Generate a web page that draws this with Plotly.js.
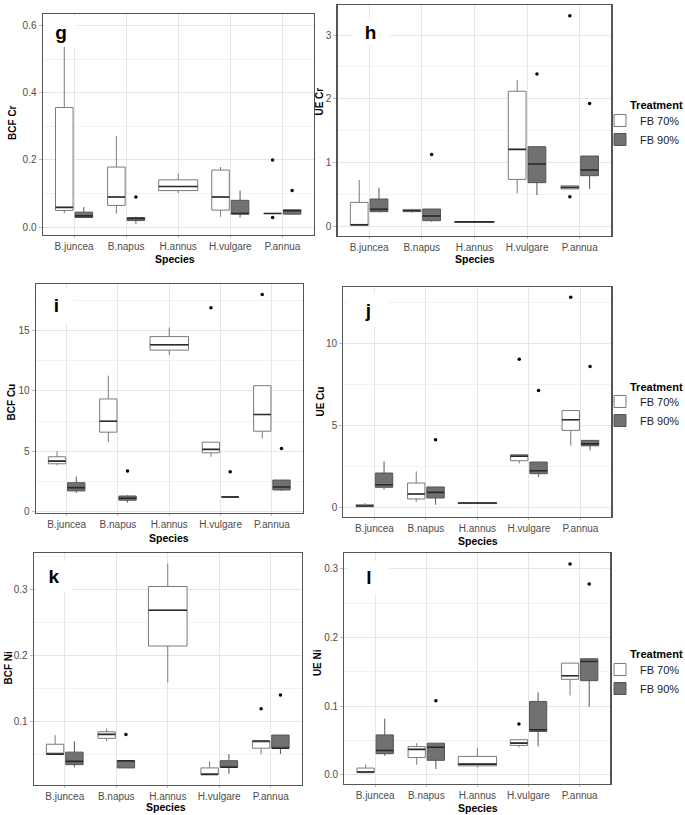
<!DOCTYPE html>
<html>
<head>
<meta charset="utf-8">
<script src="https://cdn.plot.ly/plotly-3.0.1.min.js"></script>
<style>html,body{margin:0;padding:0;background:#fff;}#chart{width:685px;height:815px;}</style>
</head>
<body>
<div id="chart"></div>
<script>
// ---------- DATA (five-number summaries: [lower whisker, Q1, median, Q3, upper whisker]) ----------
const SPECIES = ['B.juncea', 'B.napus', 'H.annus', 'H.vulgare', 'P.annua'];
const TREATMENTS = ['FB 70%', 'FB 90%'];

// g: BCF Cr
const g70 = [[0.042,0.050,0.059,0.356,0.600],[0.041,0.065,0.090,0.179,0.271],[0.102,0.109,0.121,0.141,0.160],[0.031,0.051,0.090,0.170,0.179],[0.041,0.041,0.041,0.041,0.041]];
const g90 = [[0.028,0.029,0.034,0.045,0.060],[0.010,0.020,0.026,0.029,0.031],null,[0.029,0.039,0.041,0.080,0.109],[0.039,0.039,0.049,0.052,0.052]];
const gOut70 = [[],[],[],[],[0.200,0.029]];
const gOut90 = [[],[0.090],[],[],[0.109]];

// h: UE Cr
const h70 = [[0.02,0.02,0.03,0.38,0.73],[0.22,0.235,0.25,0.27,0.28],[0.07,0.07,0.075,0.08,0.08],[0.52,0.74,1.21,2.12,2.30],[0.59,0.59,0.615,0.64,0.64]];
const h90 = [[0.224,0.235,0.271,0.433,0.61],[0.078,0.094,0.167,0.276,0.276],null,[0.496,0.689,0.981,1.252,1.252],[0.59,0.798,0.887,1.106,1.106]];
const hOut70 = [[],[],[],[],[3.30,0.47]];
const hOut90 = [[],[1.13],[],[2.39],[1.93]];

// i: BCF Cu
const i70 = [[3.83,3.96,4.18,4.54,5.01],[5.75,6.58,7.49,9.33,11.26],[12.99,13.38,13.82,14.5,15.25],[4.54,4.87,5.15,5.75,5.75],[6.06,6.66,8.04,10.43,10.43]];
const i90 = [[1.54,1.71,1.98,2.39,2.89],[0.74,0.94,1.10,1.29,1.35],null,[1.21,1.21,1.21,1.21,1.21],[1.71,1.79,2.04,2.61,2.61]];
const iOut70 = [[],[],[],[16.9],[18.0]];
const iOut90 = [[],[3.36],[],[3.30],[5.23]];

// j: UE Cu
const j70 = [[0.06,0.08,0.12,0.20,0.30],[0.37,0.55,0.85,1.52,2.23],[0.27,0.27,0.30,0.32,0.39],[2.72,2.88,3.16,3.25,3.25],[3.81,4.73,5.38,5.94,5.94]];
const j90 = [[1.12,1.26,1.42,2.13,2.84],[0.20,0.61,0.95,1.28,1.28],null,[1.89,2.09,2.27,2.80,2.80],[3.51,3.79,3.91,4.12,4.12]];
const jOut70 = [[],[],[],[9.07],[12.84]];
const jOut90 = [[],[4.16],[],[7.16],[8.62]];

// k: BCF Ni
const k70 = [[0.050,0.050,0.050,0.065,0.079],[0.070,0.074,0.080,0.084,0.089],[0.159,0.2145,0.269,0.305,0.340],[0.019,0.019,0.019,0.029,0.039],[0.050,0.059,0.070,0.070,0.070]];
const k90 = [[0.030,0.034,0.039,0.053,0.0695],[0.029,0.029,0.040,0.040,0.040],null,[0.020,0.030,0.030,0.040,0.050],[0.050,0.059,0.059,0.079,0.079]];
const kOut70 = [[],[],[],[],[0.119]];
const kOut90 = [[],[0.080],[],[],[0.140]];

// l: UE Ni
const l70 = [[0.003,0.003,0.004,0.0097,0.0146],[0.0146,0.025,0.037,0.041,0.046],[0.0107,0.013,0.0155,0.0267,0.0388],[0.0398,0.0427,0.046,0.051,0.051],[0.1155,0.139,0.1442,0.1626,0.1626]];
const l90 = [[0.0277,0.0306,0.0354,0.058,0.0816],[0.0083,0.021,0.040,0.046,0.046],null,[0.0413,0.063,0.0655,0.1068,0.120],[0.0995,0.137,0.165,0.169,0.169]];
const lOut70 = [[],[],[],[0.0738],[0.307]];
const lOut90 = [[],[0.1078],[],[],[0.278]];

// ---------- LAYOUT / STYLE ----------
const W = 685, H = 815;
const fx = px => px / W;
const fy = py => 1 - py / H;
const FONT = 'Liberation Sans, Arial, sans-serif';
const FILL = ['#ffffff', '#717171'];
const LINE = ['#7a7a7a', '#555555'];
const DODGE = 0.1875, BOXW = 0.3375, FULLW = 0.75;

const PANELS = [
  {letter:'g', d:[g70,g90], o:[gOut70,gOut90], ytitle:'BCF Cr', rect:[43,14,315,235], yr:[-0.023,0.634], dtick:0.2, fmt:'.1f',
   yt:[12,122], xt:[176,259.5], lt:[61.5,31.5,30,28], legend:null},
  {letter:'h', d:[h70,h90], o:[hOut70,hOut90], ytitle:'UE Cr', rect:[339,5,614,236], yr:[-0.146,3.47], dtick:1, fmt:'d',
   yt:[321,102], xt:[477,259.5], lt:[372.5,32,35,26], legend:{id:'legend', title:105, item1:120}},
  {letter:'i', d:[i70,i90], o:[iOut70,iOut90], ytitle:'BCF Cu', rect:[36,284,304,513], yr:[-0.12,18.86], dtick:5, fmt:'d',
   yt:[11.5,402], xt:[170,538], lt:[56.5,305,33,33], legend:null},
  {letter:'j', d:[j70,j90], o:[jOut70,jOut90], ytitle:'UE Cu', rect:[345,287,614,517], yr:[-0.55,13.47], dtick:5, fmt:'d',
   yt:[321,402], xt:[480,541], lt:[370,310,36,32], legend:{id:'legend2', title:387, item1:401}},
  {letter:'k', d:[k70,k90], o:[kOut70,kOut90], ytitle:'BCF Ni', rect:[34,553,303,785], yr:[0.003,0.356], dtick:0.1, fmt:'.1f',
   yt:[8.5,667], xt:[167,806.5], lt:[54,576.5,34,29], legend:null},
  {letter:'l', d:[l70,l90], o:[lOut70,lOut90], ytitle:'UE Ni', rect:[346,553,613,784], yr:[-0.0135,0.323], dtick:0.1, fmt:'.1f',
   yt:[318.5,663], xt:[480,807.5], lt:[371,577.5,38,31], legend:{id:'legend3', title:654, item1:669}}
];

const traces = [];
const layout = {
  width: W, height: H, margin:{l:0,r:0,t:0,b:0}, paper_bgcolor:'#fff', plot_bgcolor:'#fff',
  boxmode:'overlay', hovermode:false, font:{family:FONT, size:10, color:'#4d4d4d'},
  annotations: [], showlegend: true
};

PANELS.forEach((P, idx) => {
  const n = idx + 1;
  const sfx = n === 1 ? '' : String(n);
  const xa = 'x' + sfx, ya = 'y' + sfx;
  const [L, T, R, B] = P.rect;

  layout['xaxis' + sfx] = {
    domain:[fx(L), fx(R)], anchor:ya, range:[0.4,5.6],
    tickmode:'array', tickvals:SPECIES.map((s,i)=>i+1), ticktext:SPECIES,
    showgrid:true, gridcolor:'#e6e6e6', gridwidth:1, zeroline:false,
    showline:true, mirror:true, linecolor:'#555', linewidth:1.3,
    ticks:'outside', ticklen:2, tickcolor:'#bdbdbd', tickfont:{size:10, color:'#4d4d4d', family:FONT},
    fixedrange:true
  };
  layout['yaxis' + sfx] = {
    domain:[fy(B), fy(T)], anchor:xa, range:P.yr, tick0:0, dtick:P.dtick, tickformat:P.fmt,
    showgrid:true, gridcolor:'#e6e6e6', gridwidth:1, zeroline:false,
    minor:{tick0:0, dtick:P.dtick/2, showgrid:true, gridcolor:'#f2f2f2', gridwidth:1, ticks:''},
    showline:true, mirror:true, linecolor:'#555', linewidth:1.3,
    ticks:'outside', ticklen:3, tickcolor:'#bdbdbd', tickfont:{size:10, color:'#4d4d4d', family:FONT},
    fixedrange:true
  };

  const medX = [], medY = [];
  [0,1].forEach(t => {
    const dod = {x:[],lo:[],q1:[],med:[],q3:[],hi:[]};
    const sgl = {x:[],lo:[],q1:[],med:[],q3:[],hi:[]};
    const ox = [], oy = [];
    P.d[t].forEach((row, s) => {
      if (!row) return;
      const other = P.d[1-t][s];
      const c = s + 1 + (other ? (t === 0 ? -DODGE : DODGE) : 0);
      const w = other ? BOXW : FULLW;
      const g = other ? dod : sgl;
      g.x.push(c); g.lo.push(row[0]); g.q1.push(row[1]); g.med.push(row[2]); g.q3.push(row[3]); g.hi.push(row[4]);
      medX.push(c - w/2, c + w/2, null); medY.push(row[2], row[2], null);
      P.o[t][s].forEach(v => { ox.push(c); oy.push(v); });
    });
    const mk = (g, w, show) => ({
      type:'box', orientation:'v', xaxis:xa, yaxis:ya, name:TREATMENTS[t],
      x:g.x, q1:g.q1, median:g.med, q3:g.q3, lowerfence:g.lo, upperfence:g.hi,
      width:w, boxpoints:false, whiskerwidth:0, fillcolor:FILL[t],
      line:{color:LINE[t], width:1}, showlegend:show,
      legend: P.legend ? P.legend.id : 'legend', legendgroup: 'g' + n + t
    });
    if (dod.x.length) traces.push(mk(dod, BOXW, !!P.legend));
    if (sgl.x.length) traces.push(mk(sgl, FULLW, false));
    if (ox.length) traces.push({type:'scatter', mode:'markers', xaxis:xa, yaxis:ya, x:ox, y:oy,
      marker:{color:'#000', size:3.5}, showlegend:false, hoverinfo:'skip'});
  });
  traces.push({type:'scatter', mode:'lines', xaxis:xa, yaxis:ya, x:medX, y:medY,
    line:{color:'#2a2a2a', width:1.6}, showlegend:false, hoverinfo:'skip'});

  // panel letter with white backing
  layout.annotations.push({xref:'paper', yref:'paper', x:fx(P.lt[0]), y:fy(P.lt[1]), xanchor:'center', yanchor:'middle',
    text:'<b>' + P.letter + '</b>', showarrow:false, bgcolor:'#ffffff', width:P.lt[2], height:P.lt[3],
    borderpad:1, borderwidth:0, font:{family:FONT, size:19, color:'#000'}});
  // axis titles
  layout.annotations.push({xref:'paper', yref:'paper', x:fx(P.yt[0]), y:fy(P.yt[1]), xanchor:'center', yanchor:'middle',
    text:'<b>' + P.ytitle + '</b>', textangle:-90, showarrow:false, font:{family:FONT, size:10, color:'#000'}});
  layout.annotations.push({xref:'paper', yref:'paper', x:fx(P.xt[0]), y:fy(P.xt[1]), xanchor:'center', yanchor:'middle',
    text:'<b>Species</b>', showarrow:false, font:{family:FONT, size:10.5, color:'#000'}});

  if (P.legend) {
    layout[P.legend.id] = {x:fx(603), y:fy(P.legend.item1 - 14), xanchor:'left', yanchor:'top',
      font:{family:FONT, size:11, color:'#222'}, bgcolor:'rgba(0,0,0,0)', borderwidth:0, tracegroupgap:0,
      traceorder:'normal'};
    layout.annotations.push({xref:'paper', yref:'paper', x:fx(631), y:fy(P.legend.title), xanchor:'left', yanchor:'middle',
      text:'<b>Treatment</b>', showarrow:false, font:{family:FONT, size:11, color:'#000'}});
  }
});

Plotly.newPlot('chart', traces, layout, {displayModeBar:false, staticPlot:true});
</script>
</body>
</html>
